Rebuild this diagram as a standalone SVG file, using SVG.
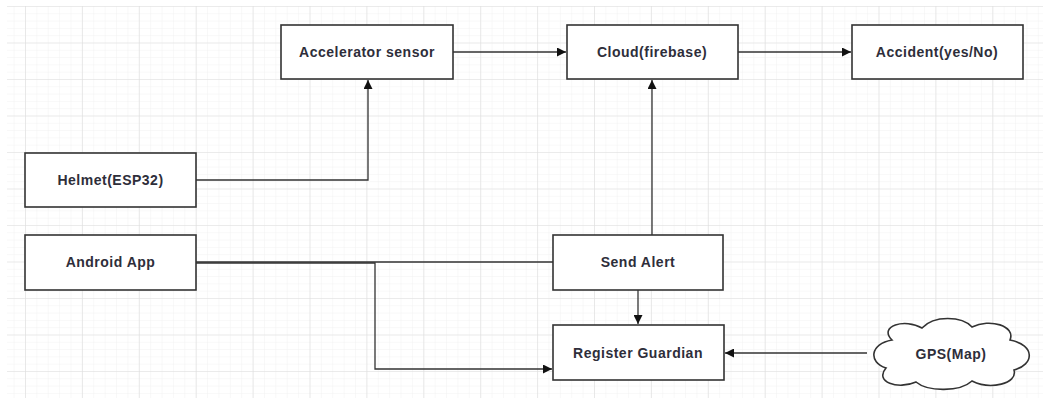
<svg xmlns="http://www.w3.org/2000/svg" width="1049" height="409" viewBox="0 0 1049 409">
<defs>
<pattern id="minor" patternUnits="userSpaceOnUse" x="25" y="6" width="11.38" height="7.3">
<path d="M0,0 H11.38 M0,0 V7.3" stroke="#f1f1f1" stroke-width="1" fill="none"/>
</pattern>
<pattern id="major" patternUnits="userSpaceOnUse" x="25" y="6" width="56.9" height="36.5">
<path d="M0,0 H56.9 M0,0 V36.5" stroke="#dedede" stroke-width="1.2" fill="none"/>
</pattern>
<marker id="arr" viewBox="0 0 10 10" refX="10" refY="5" markerWidth="9" markerHeight="9" markerUnits="userSpaceOnUse" orient="auto">
<path d="M0,0 L10,5 L0,10 Z" fill="#111"/>
</marker>
</defs>
<style>
.box{fill:#fff;stroke:#333;stroke-width:1.6}
.lbl{font-family:"Liberation Sans",Arial,sans-serif;font-weight:bold;font-size:14px;letter-spacing:0.5px;fill:#2e2e3a;text-anchor:middle;dominant-baseline:central}
.con{fill:none;stroke:#333;stroke-width:1.3}
</style>
<rect width="1049" height="409" fill="#fff"/>
<rect x="7" y="6" width="1036" height="392" fill="url(#minor)"/>
<rect x="7" y="6" width="1036" height="392" fill="url(#major)"/>
<g id="connectors">
<path class="con" d="M196,180 H368 V80" marker-end="url(#arr)"/>
<path class="con" d="M453,52 H566" marker-end="url(#arr)"/>
<path class="con" d="M738,52 H851" marker-end="url(#arr)"/>
<path class="con" d="M652,235 V80" marker-end="url(#arr)"/>
<path class="con" d="M638,290 V324" marker-end="url(#arr)"/>
<path class="con" d="M196,262 H553"/>
<path class="con" d="M196,263 H375 V369 H552" marker-end="url(#arr)"/>
<path class="con" d="M867,353 H725" marker-end="url(#arr)"/>
</g>
<g id="accel"><rect class="box" x="281" y="25" width="172" height="54"/><text class="lbl" x="367" y="52">Accelerator sensor</text></g>
<g id="cloud"><rect class="box" x="567" y="25" width="171" height="54"/><text class="lbl" x="652" y="52">Cloud(firebase)</text></g>
<g id="accident"><rect class="box" x="852" y="25" width="171" height="54"/><text class="lbl" x="937" y="52">Accident(yes/No)</text></g>
<g id="helmet"><rect class="box" x="25" y="153" width="171" height="54"/><text class="lbl" x="110.5" y="180">Helmet(ESP32)</text></g>
<g id="android"><rect class="box" x="25" y="235" width="171" height="55"/><text class="lbl" x="110.5" y="262">Android App</text></g>
<g id="sendalert"><rect class="box" x="553" y="235" width="170" height="55"/><text class="lbl" x="638" y="262">Send Alert</text></g>
<g id="register"><rect class="box" x="553" y="325" width="171" height="55"/><text class="lbl" x="638" y="353">Register Guardian</text></g>
<g id="gps">
<path class="box" d="M892,340 C878,326 905,318 922,328 C934,315 962,316 972,327 C990,318 1016,326 1010,340 C1036,345 1034,365 1014,370 C1018,384 990,390 972,381 C960,392 928,392 916,382 C898,390 874,382 886,368 C868,362 870,344 892,340 Z"/>
<text class="lbl" x="951" y="354">GPS(Map)</text>
</g>
</svg>
